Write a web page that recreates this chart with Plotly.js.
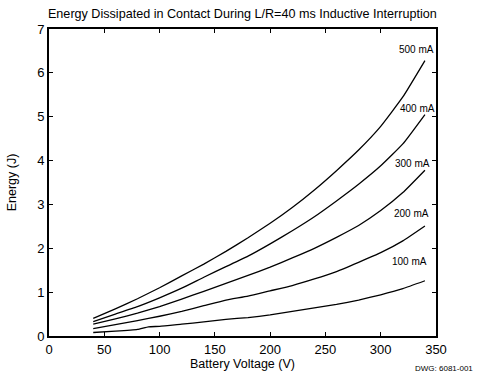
<!DOCTYPE html>
<html>
<head>
<meta charset="utf-8">
<script src="https://cdn.plot.ly/plotly-3.0.1.min.js"></script>
<style>html,body{margin:0;padding:0;background:#fff;}#chart{width:480px;height:376px;}</style>
</head>
<body>
<div id="chart"></div>
<script>
// Battery voltage (V)
const voltage = [40, 60, 80, 100, 120, 140, 160, 180, 200, 220, 240, 260, 280, 300, 320, 340];
const voltage100 = [40, 60, 80, 90, 100, 120, 140, 160, 180, 200, 220, 240, 260, 280, 300, 320, 340];
// Energy (J) per current level
const e500 = [0.40, 0.62, 0.85, 1.10, 1.37, 1.64, 1.93, 2.24, 2.57, 2.93, 3.33, 3.77, 4.24, 4.78, 5.45, 6.28];
const e400 = [0.33, 0.50, 0.67, 0.87, 1.09, 1.34, 1.58, 1.82, 2.10, 2.40, 2.72, 3.08, 3.46, 3.88, 4.38, 5.05];
const e300 = [0.27, 0.39, 0.52, 0.67, 0.84, 1.02, 1.20, 1.38, 1.57, 1.78, 2.00, 2.25, 2.52, 2.86, 3.27, 3.78];
const e200 = [0.17, 0.26, 0.35, 0.45, 0.56, 0.69, 0.82, 0.91, 1.03, 1.15, 1.30, 1.47, 1.68, 1.90, 2.17, 2.51];
const e100 = [0.08, 0.11, 0.15, 0.21, 0.22, 0.27, 0.32, 0.38, 0.42, 0.48, 0.56, 0.64, 0.72, 0.82, 0.94, 1.08, 1.26];
const seriesLabels = ["500 mA", "400 mA", "300 mA", "200 mA", "100 mA"];
const labelX = [332, 333, 329, 328, 326];
const labelY = [6.54, 5.19, 3.94, 2.80, 1.71];
const xTicks = [0, 50, 100, 150, 200, 250, 300, 350];
const yTicks = [0, 1, 2, 3, 4, 5, 6, 7];

const font = "Liberation Sans, Arial, sans-serif";
const lineStyle = {color: "#000", width: 1.3, shape: "spline", smoothing: 0.4};
const traces = [
  {x: voltage, y: e500},
  {x: voltage, y: e400},
  {x: voltage, y: e300},
  {x: voltage, y: e200},
  {x: voltage100, y: e100}
].map(t => Object.assign(t, {type: "scatter", mode: "lines", line: lineStyle, hoverinfo: "skip"}));

const annotations = seriesLabels.map((s, i) => ({
  x: labelX[i], y: labelY[i], xref: "x", yref: "y", text: s, showarrow: false,
  font: {family: font, size: 10, color: "#000"}
}));
annotations.push({
  x: 1.1, y: -0.105, xref: "paper", yref: "paper", xanchor: "right", yanchor: "middle",
  text: "DWG: 6081-001", showarrow: false, font: {family: font, size: 8, color: "#000"}
});

const layout = {
  width: 480, height: 376,
  margin: {l: 49, r: 44, t: 29, b: 40},
  paper_bgcolor: "#fff", plot_bgcolor: "#fff",
  showlegend: false,
  font: {family: font, color: "#000"},
  title: {text: "Energy Dissipated in Contact During L/R=40 ms Inductive Interruption",
          font: {family: font, size: 12.6, color: "#000"}, x: 0.505, xanchor: "center", y: 0.963, yanchor: "middle"},
  xaxis: {
    range: [0, 350], tickvals: xTicks, ticktext: xTicks.map(String),
    ticks: "inside", ticklen: 4, tickwidth: 1, tickcolor: "#000",
    showline: true, linewidth: 2, linecolor: "#000", mirror: "ticks",
    showgrid: false, zeroline: false,
    tickfont: {family: font, size: 13, color: "#000"},
    title: {text: "Battery Voltage (V)", font: {family: font, size: 12.5, color: "#000"}, standoff: 4}
  },
  yaxis: {
    range: [0, 7], tickvals: yTicks, ticktext: yTicks.map(String),
    ticks: "inside", ticklen: 4, tickwidth: 1, tickcolor: "#000",
    showline: true, linewidth: 2, linecolor: "#000", mirror: "ticks",
    showgrid: false, zeroline: false,
    tickfont: {family: font, size: 13, color: "#000"},
    title: {text: "Energy (J)", font: {family: font, size: 12.5, color: "#000"}, standoff: 18}
  },
  annotations: annotations
};

Plotly.newPlot("chart", traces, layout, {staticPlot: true, displayModeBar: false});
</script>
</body>
</html>
